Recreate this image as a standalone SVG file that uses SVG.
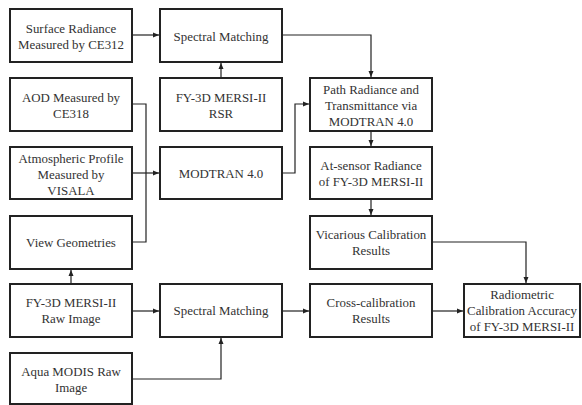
<svg xmlns="http://www.w3.org/2000/svg" width="582" height="405" viewBox="0 0 582 405">
<style>
.box{fill:#fff;stroke:#222;stroke-width:2}
.t{font-family:"Liberation Serif","Times New Roman",serif;font-size:12.9px;fill:#333;text-anchor:middle}
.c{fill:none;stroke:#222;stroke-width:1.2}
</style>
<defs>
<marker id="ah" viewBox="0 0 6 6" refX="6" refY="3" markerWidth="6" markerHeight="6" markerUnits="userSpaceOnUse" orient="auto">
<path d="M0,0.5 L6,3 L0,5.5 Z" fill="#222"/>
</marker>
</defs>
<rect width="582" height="405" fill="#fff"/>
<g id="connectors">
<path class="c" d="M132,35 H159" marker-end="url(#ah)"/>
<path class="c" d="M221,78 V63" marker-end="url(#ah)"/>
<path class="c" d="M282,35 H371 V77" marker-end="url(#ah)"/>
<path class="c" d="M132,104 H146 V242 H132"/>
<path class="c" d="M132,173 H159" marker-end="url(#ah)"/>
<path class="c" d="M282,173 H295 V104 H309" marker-end="url(#ah)"/>
<path class="c" d="M371,131 V146" marker-end="url(#ah)"/>
<path class="c" d="M371,199 V215" marker-end="url(#ah)"/>
<path class="c" d="M432,242 H526 V283" marker-end="url(#ah)"/>
<path class="c" d="M71,284 V270" marker-end="url(#ah)"/>
<path class="c" d="M132,311 H159" marker-end="url(#ah)"/>
<path class="c" d="M282,311 H309" marker-end="url(#ah)"/>
<path class="c" d="M432,311 H463" marker-end="url(#ah)"/>
<path class="c" d="M132,379 H221 V338" marker-end="url(#ah)"/>
</g>
<g id="surface"><rect class="box" x="10" y="9" width="122" height="53"/><text class="t" x="71" y="33">Surface Radiance</text><text class="t" x="71" y="49">Measured by CE312</text></g>
<g id="spectral1"><rect class="box" x="160" y="9" width="122" height="53"/><text class="t" x="221" y="41">Spectral Matching</text></g>
<g id="aod"><rect class="box" x="10" y="78" width="122" height="53"/><text class="t" x="71" y="102">AOD Measured by</text><text class="t" x="71" y="118">CE318</text></g>
<g id="rsr"><rect class="box" x="160" y="78" width="122" height="53"/><text class="t" x="221" y="102">FY-3D MERSI-II</text><text class="t" x="221" y="118">RSR</text></g>
<g id="path"><rect class="box" x="310" y="78" width="122" height="53"/><text class="t" x="371" y="94">Path Radiance and</text><text class="t" x="371" y="110">Transmittance via</text><text class="t" x="371" y="126">MODTRAN 4.0</text></g>
<g id="atmos"><rect class="box" x="10" y="147" width="122" height="52"/><text class="t" x="71" y="162.5">Atmospheric Profile</text><text class="t" x="71" y="178.5">Measured by</text><text class="t" x="71" y="194.5">VISALA</text></g>
<g id="modtran"><rect class="box" x="160" y="147" width="122" height="52"/><text class="t" x="221" y="177.5">MODTRAN 4.0</text></g>
<g id="atsensor"><rect class="box" x="310" y="147" width="122" height="52"/><text class="t" x="371" y="169.5">At-sensor Radiance</text><text class="t" x="371" y="185.5">of FY-3D MERSI-II</text></g>
<g id="view"><rect class="box" x="10" y="216" width="122" height="53"/><text class="t" x="71" y="246.5">View Geometries</text></g>
<g id="vicarious"><rect class="box" x="310" y="216" width="122" height="53"/><text class="t" x="371" y="238.5">Vicarious Calibration</text><text class="t" x="371" y="254.5">Results</text></g>
<g id="fyraw"><rect class="box" x="10" y="284" width="122" height="53"/><text class="t" x="71" y="306.5">FY-3D MERSI-II</text><text class="t" x="71" y="322.5">Raw Image</text></g>
<g id="spectral2"><rect class="box" x="160" y="284" width="122" height="53"/><text class="t" x="221" y="315">Spectral Matching</text></g>
<g id="cross"><rect class="box" x="310" y="284" width="122" height="53"/><text class="t" x="371" y="306.5">Cross-calibration</text><text class="t" x="371" y="322.5">Results</text></g>
<g id="radiometric"><rect class="box" x="464" y="284" width="116" height="53"/><text class="t" x="522" y="299">Radiometric</text><text class="t" x="522" y="315">Calibration Accuracy</text><text class="t" x="522" y="331">of FY-3D MERSI-II</text></g>
<g id="aqua"><rect class="box" x="10" y="353" width="122" height="51"/><text class="t" x="71" y="375.5">Aqua MODIS Raw</text><text class="t" x="71" y="391.5">Image</text></g>
</svg>
